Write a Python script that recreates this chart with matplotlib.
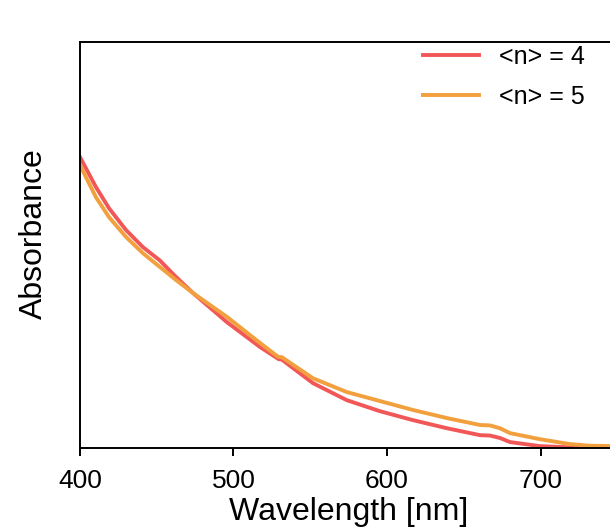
import numpy as np
import matplotlib
matplotlib.use('Agg')
import matplotlib.pyplot as plt

plt.rcParams['font.family'] = ['Liberation Sans', 'DejaVu Sans']

# wavelength (nm) and absorbance (a.u.)
wl_n4 = [400, 410.4, 418.9, 430, 441, 452.1, 461.9, 473.6, 495.8, 517.3, 529.5, 531.5,
         551.8, 573.9, 595.4, 616.9, 639.1, 660.6, 667.1, 673.6, 680.1, 699.7, 719.2,
         732, 750]
abs_n4 = [0.717, 0.643, 0.591, 0.537, 0.495, 0.462, 0.424, 0.382, 0.310, 0.249, 0.219,
          0.218, 0.160, 0.118, 0.091, 0.069, 0.049, 0.032, 0.031, 0.025, 0.015, 0.005,
          0.002, 0.001, 0.001]

wl_n5 = [400, 410.4, 418.9, 430, 441, 452.1, 461.9, 473.6, 495.8, 517.3, 529.0, 531.5,
         551.8, 573.9, 595.4, 616.9, 639.1, 660.6, 667.1, 673.6, 680.1, 699.7, 719.2,
         732, 750]
abs_n5 = [0.697, 0.618, 0.569, 0.520, 0.480, 0.446, 0.416, 0.382, 0.323, 0.259, 0.225,
          0.224, 0.172, 0.138, 0.116, 0.094, 0.074, 0.057, 0.056, 0.049, 0.037, 0.022,
          0.010, 0.006, 0.005]

labels = ['<n> = 4', '<n> = 5']
colors = ['#f25757', '#f2a03d']

fig = plt.figure(figsize=(6.1, 5.31), dpi=100)
ax = fig.add_axes([0.131, 0.156, 0.881, 0.765])

ax.plot(wl_n4, abs_n4, color=colors[0], lw=2.8, label=labels[0],
        solid_joinstyle='round')
ax.plot(wl_n5, abs_n5, color=colors[1], lw=2.8, label=labels[1],
        solid_joinstyle='round')

ax.set_xlim(400, 750)
ax.set_ylim(0, 1.0)
ax.set_xticks([400, 500, 600, 700])
ax.set_yticks([])
ax.tick_params(axis='x', direction='out', length=6, width=1.4, labelsize=19, pad=9)
for s in ax.spines.values():
    s.set_linewidth(1.4)

ax.set_xlabel('Wavelength [nm]', fontsize=23, labelpad=3)
ax.set_ylabel('Absorbance', fontsize=23)
ax.yaxis.set_label_coords(-0.058, 0.527)

ax.legend(loc='upper left', bbox_to_anchor=(0.656, 0.958), bbox_transform=fig.transFigure,
          frameon=False, fontsize=18, handlelength=2.25, handletextpad=0.8,
          labelspacing=0.65)

fig.savefig('out.png', dpi=100)
